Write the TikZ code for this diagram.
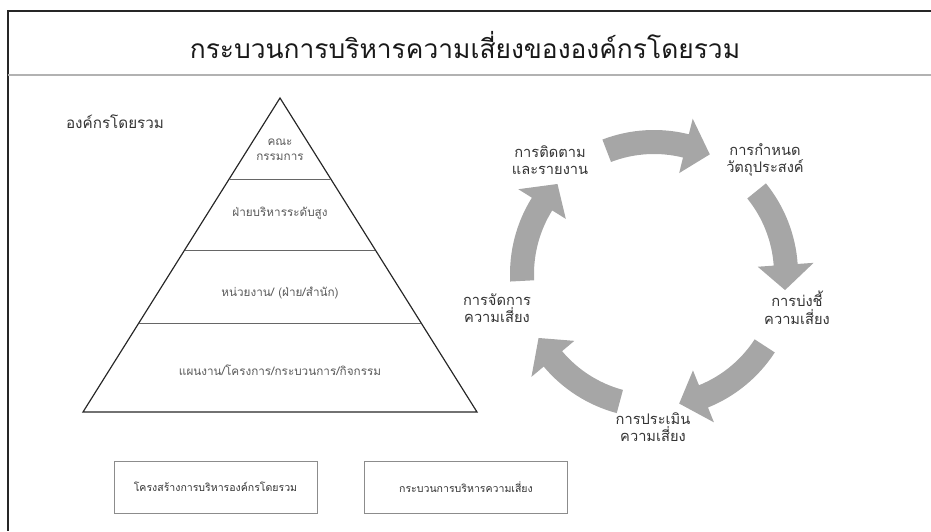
\documentclass[tikz,border=0pt]{standalone}
\usepackage{fontspec}
\setmainfont[Script=Thai]{Loma}
\usepackage{tikz}
\usetikzlibrary{calc}

\begin{document}
\begin{tikzpicture}[x=0.03cm,y=0.03cm,
  titletxt/.style={text=black!90, font=\fontsize{22.5}{26}\selectfont, inner sep=0pt},
  orgtxt/.style={text=black!80, font=\fontsize{13}{15}\selectfont, inner sep=0pt},
  pyrtxt/.style={text=black!65, font=\fontsize{10}{13}\selectfont, align=center, inner sep=0pt},
  cyctxt/.style={text=black!80, font=\fontsize{12.5}{15}\selectfont, align=center, inner sep=0pt},
  boxtxt/.style={draw=black!45, line width=0.6pt, text=black!80, font=\fontsize{9}{11}\selectfont,
    minimum width=6.09cm, minimum height=1.56cm, inner sep=0pt},
  pyr/.style={line width=1pt, draw=black!85},
  pyrline/.style={line width=0.7pt, draw=black!60},
  cycarrow/.style={fill=black!35}]
\useasboundingbox (0,0) rectangle (931,531);
% frame
\draw[line width=1.6pt, black!85] (931,520) -- (8,520) -- (8,0);
\draw[line width=1.2pt, black!30] (8,456) -- (931,456);
\node[titletxt] (title) at (465,486) {กระบวนการบริหารความเสี่ยงขององค์กรโดยรวม};

% pyramid
\node[orgtxt] (org) at (115,409) {องค์กรโดยรวม};
\coordinate (top) at (280,433);
\coordinate (bl) at (83,119);
\coordinate (br) at (477,119);
\draw[pyr] (top) -- (bl) -- (br) -- cycle;
\foreach \f in {0.258,0.484,0.717}
  \draw[pyrline] ($(top)!\f!(bl)$) -- ($(top)!\f!(br)$);
\node[pyrtxt] (lvlA) at (280,381) {คณะ\\กรรมการ};
\node[pyrtxt] (lvlB) at (280,318) {ฝ่ายบริหารระดับสูง};
\node[pyrtxt] (lvlC) at (280,238) {หน่วยงาน/ (ฝ่าย/สำนัก)};
\node[pyrtxt] (lvlD) at (280,161) {แผนงาน/โครงการ/กระบวนการ/กิจกรรม};

% cycle
\coordinate (cyc) at (654,257);
\foreach \m in {88,16,-56,-128,-200}{
  \pgfmathsetmacro\s{\m+23}
  \pgfmathsetmacro\h{\m-12}
  \pgfmathsetmacro\t{\m-23}
  \fill[cycarrow] ($(cyc)+(\s:144)$) arc[start angle=\s, end angle=\h, radius=144]
    -- ($(cyc)+(\h:160)$) -- ($(cyc)+(\t:132)$) -- ($(cyc)+(\h:104)$)
    -- ($(cyc)+(\h:120)$) arc[start angle=\h, end angle=\s, radius=120] -- cycle;
}
\node[cyctxt] (follow) at (550,371) {การติดตาม\\และรายงาน};
\node[cyctxt] (goal) at (765,371) {การกำหนด\\วัตถุประสงค์};
\node[cyctxt] (ident) at (797,223) {การบ่งชี้\\ความเสี่ยง};
\node[cyctxt] (assess) at (653,104) {การประเมิน\\ความเสี่ยง};
\node[cyctxt] (manage) at (497,223) {การจัดการ\\ความเสี่ยง};

% captions
\node[boxtxt] (capL) at (215.5,44) {โครงสร้างการบริหารองค์กรโดยรวม};
\node[boxtxt] (capR) at (466,44) {กระบวนการบริหารความเสี่ยง};
\end{tikzpicture}
\end{document}
